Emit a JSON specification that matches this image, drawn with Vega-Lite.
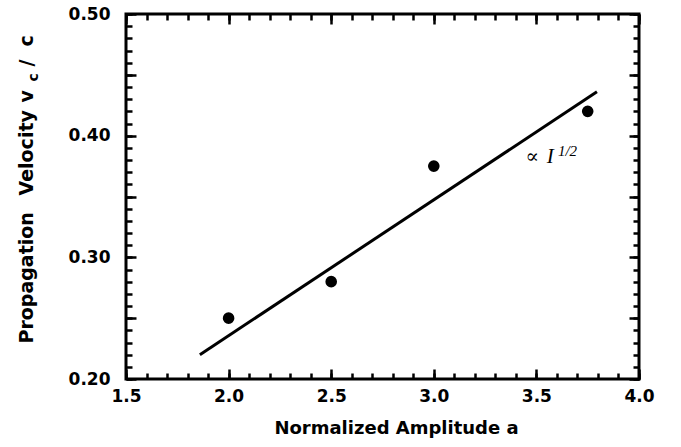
{
  "$schema": "https://vega.github.io/schema/vega-lite/v6.json",
  "width": 513,
  "height": 365,
  "autosize": {"type": "none"},
  "padding": {"left": 126, "top": 14, "right": 42, "bottom": 68},
  "background": "white",
  "datasets": {
    "points": [
      {"a": 2.0, "v": 0.25},
      {"a": 2.5, "v": 0.28},
      {"a": 3.0, "v": 0.375},
      {"a": 3.75, "v": 0.42}
    ],
    "fit": [
      {"a": 1.86, "v": 0.22},
      {"a": 3.795, "v": 0.436}
    ]
  },
  "config": {
    "view": {"stroke": "black", "strokeWidth": 3},
    "axis": {
      "domain": false,
      "grid": false,
      "tickColor": "black",
      "tickWidth": 2.5,
      "tickCount": 100,
      "labelColor": "black",
      "labelFont": "DejaVu Sans",
      "labelFontWeight": "bold",
      "labelFontSize": 17,
      "titleColor": "black",
      "titleFont": "DejaVu Sans",
      "titleFontWeight": "bold",
      "titleFontSize": 19
    }
  },
  "resolve": {"axis": {"x": "independent", "y": "independent"}},
  "layer": [
    {
      "data": {"name": "points"},
      "mark": {"type": "point", "filled": true, "shape": "circle", "size": 135, "color": "black", "opacity": 1},
      "encoding": {
        "x": {"field": "a", "type": "quantitative",
          "scale": {"domain": [1.5, 4.0], "nice": false, "zero": false},
          "axis": {"orient": "bottom", "values": [1.5, 2.0, 2.5, 3.0, 3.5, 4.0], "format": ".1f", "ticks": false, "labelPadding": 9, "labelFlush": false,
            "title": "Normalized Amplitude a", "titleFontSize": 18, "titleX": 270, "titleY": 54, "titleAlign": "center", "titleBaseline": "alphabetic"}},
        "y": {"field": "v", "type": "quantitative",
          "scale": {"domain": [0.2, 0.5], "nice": false, "zero": false},
          "axis": {"orient": "left", "values": [0.2, 0.3, 0.4, 0.5], "format": ".2f", "ticks": false, "labelPadding": 16, "labelFlush": false,
            "title": "Propagation", "titleAngle": -90, "titleAlign": "left", "titleBaseline": "alphabetic", "titleX": -94, "titleY": 329}}
      }
    },
    {
      "data": {"name": "fit"},
      "mark": {"type": "line", "color": "black", "strokeWidth": 3},
      "encoding": {
        "x": {"field": "a", "type": "quantitative",
          "scale": {"domain": [1.5, 4.0], "nice": false, "zero": false},
          "axis": {"orient": "bottom", "values": [1.5, 2.0, 2.5, 3.0, 3.5, 4.0], "tickSize": -10, "labels": false, "title": null}},
        "y": {"field": "v", "type": "quantitative",
          "scale": {"domain": [0.2, 0.5], "nice": false, "zero": false},
          "axis": {"orient": "left", "values": [0.2, 0.25, 0.3, 0.35, 0.4, 0.45, 0.5], "tickSize": -10, "labels": false,
            "title": "Velocity", "titleAngle": -90, "titleAlign": "left", "titleBaseline": "alphabetic", "titleX": -94, "titleY": 181}}
      }
    },
    {
      "data": {"name": "points"},
      "mark": {"type": "point", "opacity": 0},
      "encoding": {
        "x": {"field": "a", "type": "quantitative",
          "scale": {"domain": [1.5, 4.0], "nice": false, "zero": false},
          "axis": {"orient": "bottom", "values": [1.5, 1.6, 1.7, 1.8, 1.9, 2.0, 2.1, 2.2, 2.3, 2.4, 2.5, 2.6, 2.7, 2.8, 2.9, 3.0, 3.1, 3.2, 3.3, 3.4, 3.5, 3.6, 3.7, 3.8, 3.9, 4.0], "tickSize": -6, "labels": false, "title": null}},
        "y": {"field": "v", "type": "quantitative",
          "scale": {"domain": [0.2, 0.5], "nice": false, "zero": false},
          "axis": {"orient": "left", "values": [0.2, 0.21, 0.22, 0.23, 0.24, 0.25, 0.26, 0.27, 0.28, 0.29, 0.3, 0.31, 0.32, 0.33, 0.34, 0.35, 0.36, 0.37, 0.38, 0.39, 0.4, 0.41, 0.42, 0.43, 0.44, 0.45, 0.46, 0.47, 0.48, 0.49, 0.5], "tickSize": -6, "labels": false,
            "title": "v", "titleAngle": -90, "titleAlign": "left", "titleBaseline": "alphabetic", "titleX": -94, "titleY": 88}}
      }
    },
    {
      "data": {"name": "points"},
      "mark": {"type": "point", "opacity": 0},
      "encoding": {
        "x": {"field": "a", "type": "quantitative",
          "scale": {"domain": [1.5, 4.0], "nice": false, "zero": false},
          "axis": {"orient": "top", "values": [1.5, 2.0, 2.5, 3.0, 3.5, 4.0], "tickSize": -10, "labels": false, "title": null}},
        "y": {"field": "v", "type": "quantitative",
          "scale": {"domain": [0.2, 0.5], "nice": false, "zero": false},
          "axis": {"orient": "right", "values": [0.2, 0.25, 0.3, 0.35, 0.4, 0.45, 0.5], "tickSize": -10, "labels": false,
            "title": "c", "titleFontSize": 14, "titleAngle": -90, "titleAlign": "left", "titleBaseline": "alphabetic", "titleX": -602, "titleY": 67}}
      }
    },
    {
      "data": {"name": "points"},
      "mark": {"type": "point", "opacity": 0},
      "encoding": {
        "x": {"field": "a", "type": "quantitative",
          "scale": {"domain": [1.5, 4.0], "nice": false, "zero": false},
          "axis": {"orient": "top", "values": [1.5, 1.6, 1.7, 1.8, 1.9, 2.0, 2.1, 2.2, 2.3, 2.4, 2.5, 2.6, 2.7, 2.8, 2.9, 3.0, 3.1, 3.2, 3.3, 3.4, 3.5, 3.6, 3.7, 3.8, 3.9, 4.0], "tickSize": -6, "labels": false, "title": null}},
        "y": {"field": "v", "type": "quantitative",
          "scale": {"domain": [0.2, 0.5], "nice": false, "zero": false},
          "axis": {"orient": "right", "values": [0.2, 0.21, 0.22, 0.23, 0.24, 0.25, 0.26, 0.27, 0.28, 0.29, 0.3, 0.31, 0.32, 0.33, 0.34, 0.35, 0.36, 0.37, 0.38, 0.39, 0.4, 0.41, 0.42, 0.43, 0.44, 0.45, 0.46, 0.47, 0.48, 0.49, 0.5], "tickSize": -6, "labels": false,
            "title": "/", "titleAngle": -90, "titleAlign": "left", "titleBaseline": "alphabetic", "titleX": -607, "titleY": 52}}
      }
    },
    {
      "data": {"values": [{"a": 3.48, "v": 0.3825, "t": "∝"}]},
      "mark": {"type": "text", "font": "DejaVu Serif", "fontSize": 20, "align": "center", "baseline": "middle", "color": "black"},
      "encoding": {
        "text": {"field": "t"},
        "x": {"field": "a", "type": "quantitative",
          "scale": {"domain": [1.5, 4.0], "nice": false, "zero": false}, "axis": null},
        "y": {"field": "v", "type": "quantitative",
          "scale": {"domain": [0.2, 0.5], "nice": false, "zero": false},
          "axis": {"orient": "left", "values": [0.2], "ticks": false, "labels": false,
            "title": "c", "titleAngle": -90, "titleAlign": "left", "titleBaseline": "alphabetic", "titleX": -94, "titleY": 32}}
      }
    },
    {
      "data": {"values": [{"a": 3.55, "v": 0.3775, "t": "I"}]},
      "mark": {"type": "text", "font": "Liberation Serif", "fontStyle": "italic", "fontSize": 21, "align": "left", "baseline": "alphabetic", "color": "black"},
      "encoding": {
        "text": {"field": "t"},
        "x": {"field": "a", "type": "quantitative",
          "scale": {"domain": [1.5, 4.0], "nice": false, "zero": false}, "axis": null},
        "y": {"field": "v", "type": "quantitative",
          "scale": {"domain": [0.2, 0.5], "nice": false, "zero": false}, "axis": null}
      }
    },
    {
      "data": {"values": [{"a": 3.605, "v": 0.3835, "t": "1/2"}]},
      "mark": {"type": "text", "font": "Liberation Serif", "fontStyle": "italic", "fontSize": 15, "align": "left", "baseline": "alphabetic", "color": "black"},
      "encoding": {
        "text": {"field": "t"},
        "x": {"field": "a", "type": "quantitative",
          "scale": {"domain": [1.5, 4.0], "nice": false, "zero": false}, "axis": null},
        "y": {"field": "v", "type": "quantitative",
          "scale": {"domain": [0.2, 0.5], "nice": false, "zero": false}, "axis": null}
      }
    }
  ]
}
